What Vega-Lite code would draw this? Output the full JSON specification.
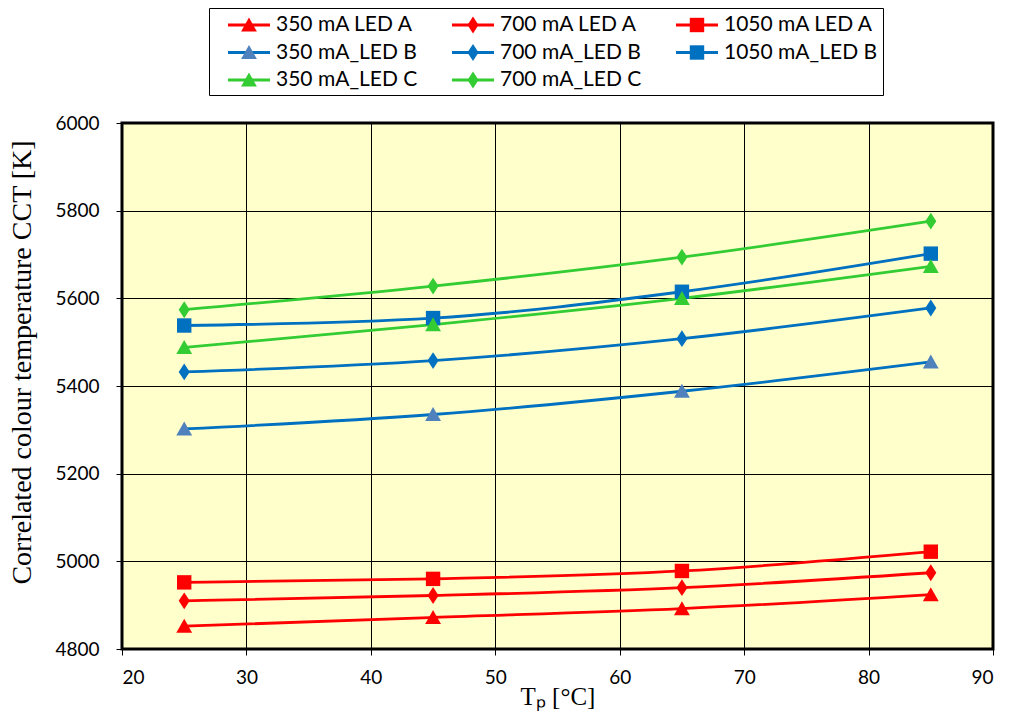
{
  "$schema": "https://vega.github.io/schema/vega-lite/v6.json",
  "width": 871,
  "height": 526,
  "autosize": "none",
  "padding": {"left": 122, "top": 123, "right": 36, "bottom": 72},
  "background": "white",
  "data": {
    "values": [
      {"series": "350 mA LED A", "T": 25, "CCT": 4852},
      {"series": "350 mA LED A", "T": 45, "CCT": 4872},
      {"series": "350 mA LED A", "T": 65, "CCT": 4892},
      {"series": "350 mA LED A", "T": 85, "CCT": 4924},
      {"series": "700 mA LED A", "T": 25, "CCT": 4910},
      {"series": "700 mA LED A", "T": 45, "CCT": 4922},
      {"series": "700 mA LED A", "T": 65, "CCT": 4940},
      {"series": "700 mA LED A", "T": 85, "CCT": 4974},
      {"series": "1050 mA LED A", "T": 25, "CCT": 4952},
      {"series": "1050 mA LED A", "T": 45, "CCT": 4960},
      {"series": "1050 mA LED A", "T": 65, "CCT": 4978},
      {"series": "1050 mA LED A", "T": 85, "CCT": 5022},
      {"series": "350 mA_LED B", "T": 25, "CCT": 5302},
      {"series": "350 mA_LED B", "T": 45, "CCT": 5335},
      {"series": "350 mA_LED B", "T": 65, "CCT": 5388},
      {"series": "350 mA_LED B", "T": 85, "CCT": 5455},
      {"series": "700 mA_LED B", "T": 25, "CCT": 5432},
      {"series": "700 mA_LED B", "T": 45, "CCT": 5458},
      {"series": "700 mA_LED B", "T": 65, "CCT": 5508},
      {"series": "700 mA_LED B", "T": 85, "CCT": 5578},
      {"series": "1050 mA_LED B", "T": 25, "CCT": 5538},
      {"series": "1050 mA_LED B", "T": 45, "CCT": 5555},
      {"series": "1050 mA_LED B", "T": 65, "CCT": 5615},
      {"series": "1050 mA_LED B", "T": 85, "CCT": 5702},
      {"series": "350 mA_LED C", "T": 25, "CCT": 5488},
      {"series": "350 mA_LED C", "T": 45, "CCT": 5540},
      {"series": "350 mA_LED C", "T": 65, "CCT": 5600},
      {"series": "350 mA_LED C", "T": 85, "CCT": 5673},
      {"series": "700 mA_LED C", "T": 25, "CCT": 5574},
      {"series": "700 mA_LED C", "T": 45, "CCT": 5628},
      {"series": "700 mA_LED C", "T": 65, "CCT": 5694},
      {"series": "700 mA_LED C", "T": 85, "CCT": 5776}
    ]
  },
  "encoding": {
    "x": {
      "field": "T",
      "type": "quantitative",
      "title": "Tₚ [°C]",
      "scale": {"domain": [20, 90], "nice": false},
      "axis": {"values": [20, 30, 40, 50, 60, 70, 80, 90]}
    },
    "y": {
      "field": "CCT",
      "type": "quantitative",
      "title": "Correlated colour temperature CCT [K]",
      "scale": {"domain": [4800, 6000], "nice": false},
      "axis": {"values": [4800, 5000, 5200, 5400, 5600, 5800, 6000], "format": "d"}
    }
  },
  "layer": [
    {
      "mark": {"type": "line", "interpolate": "monotone", "strokeWidth": 2.8},
      "encoding": {
        "color": {
          "field": "series",
          "type": "nominal",
          "scale": {
            "domain": ["350 mA LED A", "700 mA LED A", "1050 mA LED A", "350 mA_LED B", "700 mA_LED B", "1050 mA_LED B", "350 mA_LED C", "700 mA_LED C"],
            "range": ["#ff0000", "#ff0000", "#ff0000", "#0070c0", "#0070c0", "#0070c0", "#33cc33", "#33cc33"]
          },
          "legend": null
        }
      }
    },
    {
      "mark": {"type": "point", "filled": true, "opacity": 1, "size": 576},
      "encoding": {
        "color": {
          "field": "series",
          "type": "nominal",
          "scale": {
            "domain": ["350 mA LED A", "700 mA LED A", "1050 mA LED A", "350 mA_LED B", "700 mA_LED B", "1050 mA_LED B", "350 mA_LED C", "700 mA_LED C"],
            "range": ["#ff0000", "#ff0000", "#ff0000", "#4f81bd", "#0070c0", "#0070c0", "#33cc33", "#33cc33"]
          },
          "legend": null
        },
        "shape": {
          "field": "series",
          "type": "nominal",
          "scale": {
            "domain": ["350 mA LED A", "700 mA LED A", "1050 mA LED A", "350 mA_LED B", "700 mA_LED B", "1050 mA_LED B", "350 mA_LED C", "700 mA_LED C"],
            "range": [
              "M0,-0.62L0.66,0.55H-0.66Z",
              "M0,-0.7L0.46,0L0,0.7L-0.46,0Z",
              "M-0.6,-0.6H0.6V0.6H-0.6Z",
              "M0,-0.62L0.66,0.55H-0.66Z",
              "M0,-0.7L0.46,0L0,0.7L-0.46,0Z",
              "M-0.6,-0.6H0.6V0.6H-0.6Z",
              "M0,-0.62L0.66,0.55H-0.66Z",
              "M0,-0.7L0.46,0L0,0.7L-0.46,0Z"
            ]
          },
          "legend": null
        }
      }
    },
    {
      "transform": [{"filter": "false"}],
      "mark": {"type": "point", "filled": true, "opacity": 1},
      "encoding": {
        "color": {
          "field": "series",
          "type": "nominal",
          "scale": {
            "domain": ["350 mA LED A", "700 mA LED A", "1050 mA LED A", "350 mA_LED B", "700 mA_LED B", "1050 mA_LED B", "350 mA_LED C", "700 mA_LED C"],
            "range": ["#ff0000", "#ff0000", "#ff0000", "#0070c0", "#0070c0", "#0070c0", "#33cc33", "#33cc33"]
          },
          "legend": {"orient": "none", "legendX": 87, "legendY": -115, "columns": 3, "direction": "horizontal", "title": null, "strokeColor": "black", "labelColor": "transparent"}
        },
        "shape": {
          "field": "series",
          "type": "nominal",
          "scale": {
            "domain": ["350 mA LED A", "700 mA LED A", "1050 mA LED A", "350 mA_LED B", "700 mA_LED B", "1050 mA_LED B", "350 mA_LED C", "700 mA_LED C"],
            "range": [
              "M-1.75,-0.12H1.75V0.12H-1.75Z",
              "M-1.75,-0.12H1.75V0.12H-1.75Z",
              "M-1.75,-0.12H1.75V0.12H-1.75Z",
              "M-1.75,-0.12H1.75V0.12H-1.75Z",
              "M-1.75,-0.12H1.75V0.12H-1.75Z",
              "M-1.75,-0.12H1.75V0.12H-1.75Z",
              "M-1.75,-0.12H1.75V0.12H-1.75Z",
              "M-1.75,-0.12H1.75V0.12H-1.75Z"
            ]
          },
          "legend": {"orient": "none", "legendX": 87, "legendY": -115, "columns": 3, "direction": "horizontal", "title": null, "strokeColor": "black", "labelColor": "transparent"}
        }
      }
    },
    {
      "transform": [{"filter": "false"}],
      "mark": {"type": "point", "filled": true, "opacity": 1},
      "encoding": {
        "color": {
          "field": "series",
          "type": "nominal",
          "scale": {
            "domain": ["350 mA LED A", "700 mA LED A", "1050 mA LED A", "350 mA_LED B", "700 mA_LED B", "1050 mA_LED B", "350 mA_LED C", "700 mA_LED C"],
            "range": ["#ff0000", "#ff0000", "#ff0000", "#4f81bd", "#0070c0", "#0070c0", "#33cc33", "#33cc33"]
          },
          "legend": {"orient": "none", "legendX": 87, "legendY": -115, "columns": 3, "direction": "horizontal", "title": null}
        },
        "shape": {
          "field": "series",
          "type": "nominal",
          "scale": {
            "domain": ["350 mA LED A", "700 mA LED A", "1050 mA LED A", "350 mA_LED B", "700 mA_LED B", "1050 mA_LED B", "350 mA_LED C", "700 mA_LED C"],
            "range": [
              "M0,-0.62L0.66,0.55H-0.66Z",
              "M0,-0.7L0.46,0L0,0.7L-0.46,0Z",
              "M-0.6,-0.6H0.6V0.6H-0.6Z",
              "M0,-0.62L0.66,0.55H-0.66Z",
              "M0,-0.7L0.46,0L0,0.7L-0.46,0Z",
              "M-0.6,-0.6H0.6V0.6H-0.6Z",
              "M0,-0.62L0.66,0.55H-0.66Z",
              "M0,-0.7L0.46,0L0,0.7L-0.46,0Z"
            ]
          },
          "legend": {"orient": "none", "legendX": 87, "legendY": -115, "columns": 3, "direction": "horizontal", "title": null}
        }
      }
    }
  ],
  "resolve": {"scale": {"color": "independent", "shape": "independent"}},
  "config": {
    "view": {"fill": "#ffffcc", "stroke": "black", "strokeWidth": 3},
    "axis": {
      "grid": true,
      "gridColor": "black",
      "gridWidth": 1,
      "gridOpacity": 1,
      "domain": false,
      "tickColor": "black",
      "tickSize": 6,
      "tickWidth": 1,
      "labelFont": "Lato",
      "labelFontSize": 19,
      "labelColor": "black",
      "titleFont": "Liberation Serif",
      "titleFontWeight": "normal",
      "titleColor": "black"
    },
    "axisX": {"labelPadding": 13, "titleFontSize": 25, "titlePadding": -3},
    "axisY": {"labelPadding": 17, "titleFontSize": 28, "titlePadding": 18, "titleY": 239},
    "legend": {
      "labelFont": "Lato",
      "labelFontSize": 21,
      "labelColor": "black",
      "symbolSize": 576,
      "symbolStrokeWidth": 0,
      "symbolOffset": 23,
      "labelOffset": 15,
      "columnPadding": 20,
      "rowPadding": 5.5,
      "padding": 5,
      "symbolOpacity": 1
    }
  }
}
